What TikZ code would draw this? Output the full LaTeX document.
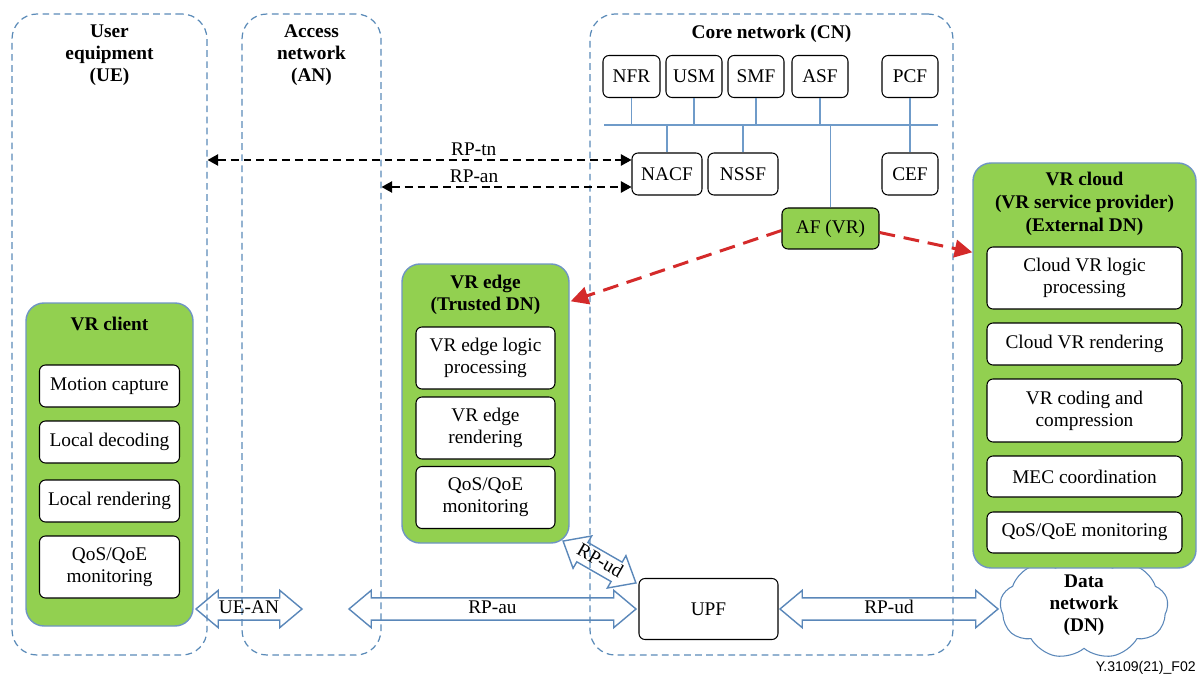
\documentclass[tikz,border=0pt]{standalone}
\usepackage{fontspec}
\setmainfont{Liberation Serif}
\newfontfamily\figsans{Liberation Sans}
\usetikzlibrary{arrows.meta,shapes.arrows,shapes.symbols,calc}

\definecolor{zoneblue}{HTML}{5B8BB8}
\definecolor{groupgreen}{HTML}{92D050}
\definecolor{groupedge}{HTML}{6F95C3}
\definecolor{linkblue}{HTML}{5A87B9}
\definecolor{busblue}{HTML}{6F9BC9}
\definecolor{afred}{HTML}{D42A2A}

\begin{document}
\begin{tikzpicture}[x=0.02cm,y=-0.02cm,
  every node/.style={font=\fontsize{11}{12.5}\selectfont},
  size/.style 2 args={minimum width=#1*0.02cm, minimum height=#2*0.02cm},
  zone/.style={draw=zoneblue, line width=0.7pt, dash pattern=on 3.8pt off 2.5pt, rounded corners=0.5cm, inner sep=0pt},
  title/.style={font=\fontsize{11}{12.5}\selectfont\bfseries, align=center, inner sep=0pt},
  group/.style={draw=groupedge, fill=groupgreen, line width=0.8pt, rounded corners=0.36cm, inner sep=0pt},
  fnbox/.style={draw=black, fill=white, line width=0.6pt, rounded corners=0.12cm, align=center, inner sep=0pt},
  bus/.style={draw=busblue, line width=0.6pt},
  ctrl/.style={draw=black, line width=0.7pt, dash pattern=on 4.5pt off 2.8pt,
    {Triangle[length=6pt,width=6.5pt]}-{Triangle[length=6pt,width=6.5pt]}},
  afd/.style={draw=afred, line width=1.7pt, dash pattern=on 9pt off 5pt,
    -{Triangle[length=10pt,width=10pt]}},
  blockarr/.style={double arrow, draw=linkblue, line width=0.8pt,
    double arrow head extend=0.15cm, double arrow tip angle=80,
    inner xsep=0pt, inner ysep=1.2pt, text height=7.5pt, text depth=2pt,
    minimum height=#1*0.02cm}
]
\useasboundingbox (0,0) rectangle (1198,679);

% Domains
\node[zone, size={195}{641}] (ue) at (109.5,334.5) {};
\node[zone, size={139}{641}] (an) at (311.5,334.5) {};
\node[zone, size={363}{641}] (cn) at (771.5,334.5) {};
\node[title] (ueT) at (109.5,55) {User\\equipment\\(UE)};
\node[title] (anT) at (311.5,55) {Access\\network\\(AN)};
\node[title] (cnT) at (771.5,34) {Core network (CN)};

% Core network functions
\node[fnbox, size={57}{42}] (nfr) at (631.5,76.5) {NFR};
\node[fnbox, size={56}{42}] (usm) at (694,76.5) {USM};
\node[fnbox, size={56}{42}] (smf) at (756,76.5) {SMF};
\node[fnbox, size={56}{42}] (asf) at (820,76.5) {ASF};
\node[fnbox, size={56}{42}] (pcf) at (910,76.5) {PCF};
\node[fnbox, size={70}{42}] (nacf) at (667,174) {NACF};
\node[fnbox, size={70}{42}] (nssf) at (743,174) {NSSF};
\node[fnbox, size={56}{42}] (cef) at (910,174) {CEF};
\node[fnbox, fill=groupgreen, size={97}{41}] (af) at (830.5,228.5) {AF (VR)};

% Service bus
\coordinate (busW) at (604,125);
\coordinate (busE) at (938,125);
\draw[bus] (busW) -- (busE);
\foreach \n in {nfr,usm,smf,asf} \draw[bus] (\n.south) -- (\n.south |- busW);
\draw[bus] (pcf.south) -- (cef.north);
\foreach \n in {nacf,nssf,af} \draw[bus] (\n.north) -- (\n.north |- busW);

% VR client
\node[group, size={167}{323}] (vrclient) at (109.5,464.5) {};
\node[title] (vrclientT) at (109.5,324) {VR client};
\node[fnbox, size={140}{42}] (mocap) at (109.5,386) {Motion capture};
\node[fnbox, size={140}{42}] (ldec) at (109.5,442) {Local decoding};
\node[fnbox, size={140}{42}] (lren) at (109.5,501) {Local rendering};
\node[fnbox, size={140}{62}] (cqos) at (109.5,567) {QoS/QoE\\monitoring};

% VR edge
\node[group, size={167}{279}] (vredge) at (485.5,403.5) {};
\node[title] (vredgeT) at (485.5,295) {VR edge\\(Trusted DN)};
\node[fnbox, size={139}{62}] (elogic) at (485.5,358) {VR edge logic\\processing};
\node[fnbox, size={139}{62}] (erend) at (485.5,428) {VR edge\\rendering};
\node[fnbox, size={139}{62}] (eqos) at (485.5,497.5) {QoS/QoE\\monitoring};

% Data network cloud (its top tucks under the VR cloud box)
\node[cloud, cloud puffs=9, cloud puff arc=100, aspect=1.7, draw=linkblue, fill=white, line width=0.6pt,
      size={168}{104}, inner sep=0pt] (dn) at (1084,607) {};

% VR cloud
\node[group, size={223}{405}] (vrcloud) at (1084.5,365.5) {};
\node[title, font=\fontsize{11}{13}\selectfont\bfseries] (vrcloudT) at (1084.5,204) {VR cloud\\(VR service provider)\\(External DN)};
\node[fnbox, size={195}{62}] (clogic) at (1084.5,278) {Cloud VR logic\\processing};
\node[fnbox, size={195}{42}] (crend) at (1084.5,344) {Cloud VR rendering};
\node[fnbox, size={195}{63}] (ccode) at (1084.5,410.5) {VR coding and\\compression};
\node[fnbox, size={195}{41}] (cmec) at (1084.5,476.5) {MEC coordination};
\node[fnbox, size={195}{41}] (cqos2) at (1084.5,532.5) {QoS/QoE monitoring};

% User plane
\node[fnbox, size={139}{61}] (upf) at (708.5,609) {UPF};
\node[title] (dnT) at (1084,605.5) {Data\\network\\(DN)};

% Control-plane reference points
\coordinate (tnY) at (0,160);
\coordinate (anY) at (0,187);
\draw[ctrl] (ue.east |- tnY) -- (nacf.west |- tnY)
  node[pos=0.628, above=2pt, inner sep=0pt] (rptn) {RP-tn};
\draw[ctrl] (an.east |- anY) -- (nacf.west |- anY)
  node[pos=0.37, above=2pt, inner sep=0pt] (rpan) {RP-an};

% AF steering towards the data networks
\draw[afd] ($(af.west)+(0,2)$) -- ($(vredge.north east)+(1,38)$);
\draw[afd] ($(af.east)+(0,4)$) -- ($(vrcloud.north west)+(0,90)$);

% User-plane reference points
\node[blockarr=106] (uean) at (249,609) {UE-AN};
\node[blockarr=287] (rpau) at (492.5,609) {RP-au};
\node[blockarr=218] (rpud) at (889,609) {RP-ud};
\node[blockarr=84, rotate=-29.9] (rpudE) at (599.5,562) {RP-ud};

% Figure identifier
\node[font=\figsans\fontsize{8}{9}\selectfont, anchor=east, inner sep=0pt] (figid) at (1196,668) {Y.3109(21)\_F02};
\end{tikzpicture}
\end{document}
